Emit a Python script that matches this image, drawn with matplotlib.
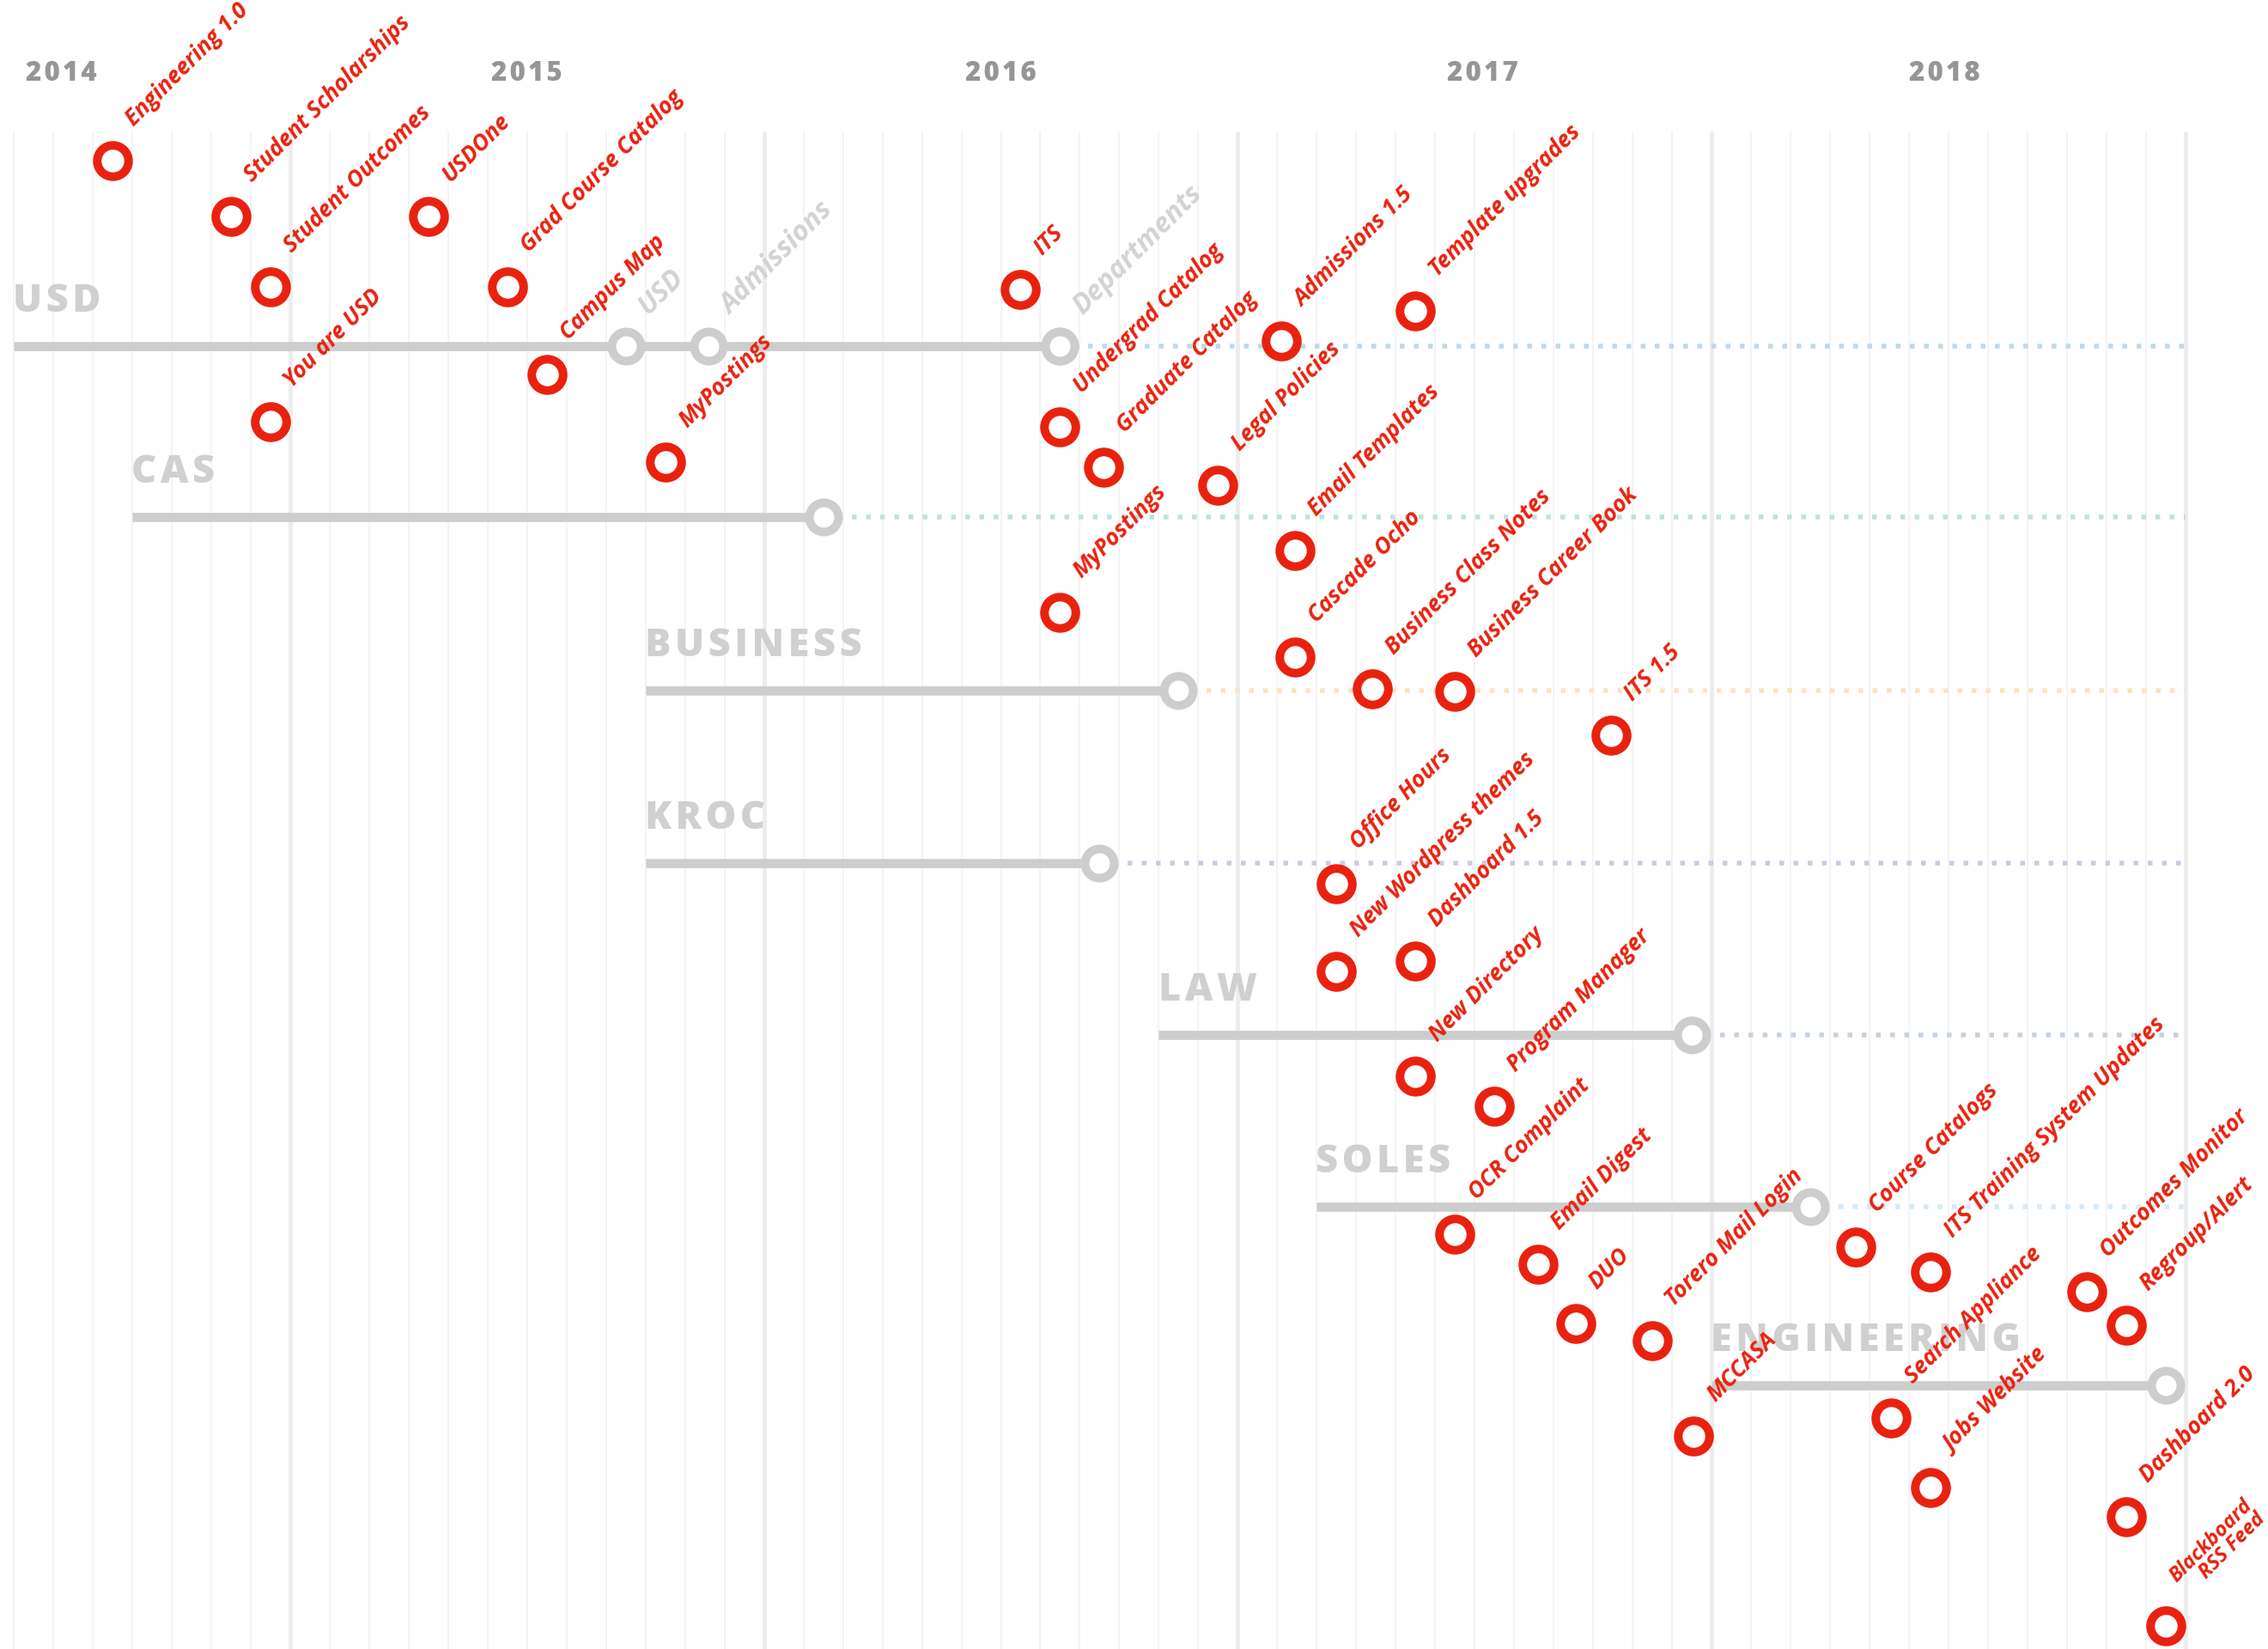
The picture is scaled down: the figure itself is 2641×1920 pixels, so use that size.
import matplotlib
matplotlib.use("Agg")
import matplotlib.pyplot as plt

# ---------------- data ----------------
# x positions are month indices (0 = Dec 2013, 1 = Jan 2014, ...)
years = ["2014", "2015", "2016", "2017", "2018"]
year_pos = [1.2, 13.0, 25.0, 37.2, 48.9]

tracks = ["USD", "CAS", "BUSINESS", "KROC", "LAW", "SOLES", "ENGINEERING"]
track_start = [0, 3, 16, 16, 29, 33, 43]
track_end = [26.5, 20.5, 29.5, 27.5, 42.5, 45.5, 54.5]
track_row = [4.03, 6.02, 8.04, 10.05, 12.05, 14.05, 16.13]
track_dots = ["#bcd9f0", "#bce3e0", "#f9e3c2", "#d3c6e3", "#c4d2e3", "#d4e9f8", None]

usd_milestones = ["USD", "Admissions", "Departments"]
usd_milestone_month = [15.5, 17.6, 26.5]

events = ["Engineering 1.0", "Student Scholarships", "Student Outcomes", "USDOne",
          "Grad Course Catalog", "Campus Map", "You are USD", "MyPostings", "ITS",
          "Undergrad Catalog", "Graduate Catalog", "Legal Policies", "Admissions 1.5",
          "Template upgrades", "MyPostings", "Email Templates", "Cascade Ocho",
          "Business Class Notes", "Business Career Book", "ITS 1.5", "Office Hours",
          "New Wordpress themes", "Dashboard 1.5", "New Directory", "Program Manager",
          "OCR Complaint", "Email Digest", "DUO", "Torero Mail Login", "MCCASA",
          "Course Catalogs", "ITS Training System Updates", "Search Appliance",
          "Jobs Website", "Outcomes Monitor", "Regroup/Alert", "Dashboard 2.0",
          "Blackboard\nRSS Feed"]
event_month = [2.5, 5.5, 6.5, 10.5, 12.5, 13.5, 6.5, 16.5, 25.5, 26.5, 27.6, 30.5,
               32.1, 35.5, 26.5, 32.45, 32.45, 34.4, 36.5, 40.45, 33.5, 33.5, 35.5,
               35.5, 37.5, 36.5, 38.6, 39.55, 41.5, 42.55, 46.65, 48.55, 47.55, 48.55,
               52.5, 53.5, 53.5, 54.5]
event_row = [1.87, 2.52, 3.34, 2.52, 3.34, 4.36, 4.91, 5.38, 3.37, 4.975, 5.44, 5.645,
             3.97, 3.62, 7.13, 6.41, 7.65, 8.02, 8.05, 8.56, 10.29, 11.31, 11.19, 12.53,
             12.875, 14.37, 14.72, 15.41, 15.61, 16.72, 14.52, 14.81, 16.51, 17.32,
             15.04, 15.43, 17.66, 18.93]

n_months = 55

# ---------------- style ----------------
RED = "#e9220f"
TRACK = "#cdcdcd"
FAM = ["Open Sans", "DejaVu Sans"]
W, H, DPI = 2641, 1920, 100
PX = 72.0 / DPI  # points per pixel


def spaced(s):
    return "\u200a".join(s)


fig = plt.figure(figsize=(W / DPI, H / DPI), dpi=DPI)
ax = fig.add_axes([0, 0, 1, 1])
x0, mw = 16.0, 45.98
ax.set_xlim(-x0 / mw, (W - x0) / mw)
ax.set_ylim(H / 100.0, 0)
ax.axis("off")

# grid lines (monthly, major every July)
for m in range(n_months + 1):
    major = (m - 7) % 12 == 0
    ax.plot([m, m], [1.53, H / 100.0], color="#ededed" if major else "#f4f4f4",
            lw=(5 if major else 2) * PX, solid_capstyle="butt", zorder=0)

# year labels
for yl, yp in zip(years, year_pos):
    ax.text(yp, 0.945, spaced(yl), ha="center", va="baseline", color="#969696",
            fontsize=22.5, fontweight="heavy", family=FAM)

# tracks
for name, s, e, r, dc in zip(tracks, track_start, track_end, track_row, track_dots):
    if dc is not None:
        ax.plot([e, n_months], [r, r], color=dc, lw=5.5 * PX,
                linestyle=(0, (1.0, 2.0)), dash_capstyle="butt", zorder=1)
    ax.plot([s, e], [r, r], color=TRACK, lw=10.7 * PX, solid_capstyle="butt", zorder=2)
    ax.plot([e], [r], marker="o", ms=34 * PX, mew=10 * PX, mfc="white", mec=TRACK,
            zorder=3)
    ax.text(s - 0.02, r - 0.40, spaced(name), ha="left", va="baseline", color="#d0d0d0",
            fontsize=32.5, fontweight="heavy", family=FAM, zorder=1)

# USD milestones (gray)
usd_r = track_row[0]
for lab, m in zip(usd_milestones, usd_milestone_month):
    ax.plot([m], [usd_r], marker="o", ms=34 * PX, mew=10 * PX, mfc="white", mec=TRACK,
            zorder=3)
    ax.annotate(lab, (m, usd_r), xytext=(26 * PX, 36 * PX), textcoords="offset points",
                rotation=45, rotation_mode="anchor", ha="left", va="baseline",
                color="#d3d3d3", fontsize=23, fontweight="bold", fontstyle="italic",
                family=FAM, zorder=4)

# events (red)
for lab, m, r in zip(events, event_month, event_row):
    ax.plot([m], [r], marker="o", ms=36.5 * PX, mew=10 * PX, mfc="white", mec=RED,
            zorder=5)
    multi = "\n" in lab
    ax.annotate(lab, (m, r), xytext=((32 if multi else 25) * PX, (30 if multi else 39) * PX),
                textcoords="offset points", rotation=45, rotation_mode="anchor",
                ha="left", va="bottom" if multi else "baseline", multialignment="right",
                linespacing=0.9, color=RED, fontsize=17 if multi else 19,
                fontweight="bold", fontstyle="italic", family=FAM, zorder=6)

fig.savefig("out.png", dpi=DPI, facecolor="white")
